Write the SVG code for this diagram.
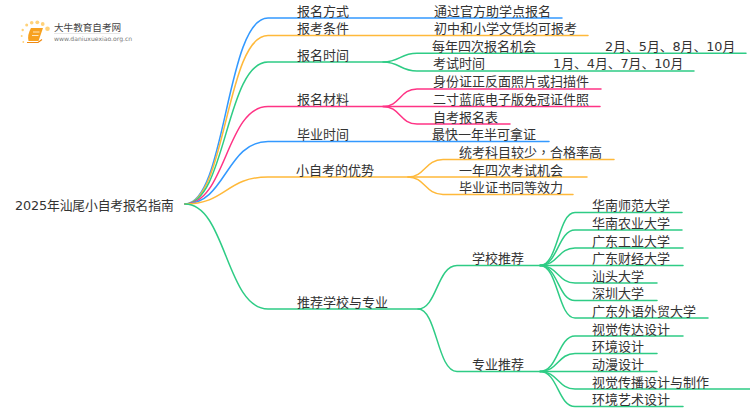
<svg xmlns="http://www.w3.org/2000/svg" width="750" height="410" viewBox="0 0 750 410">
<style>
text{font-family:"DejaVu Sans","Noto Sans CJK SC",sans-serif;font-size:13px;fill:#333}
.tc{font-family:"Noto Sans CJK TC",sans-serif}
#connectors path{fill:none;stroke-width:1.5;stroke-linecap:round}
.b{stroke:#3399ff}.o{stroke:#ffb93a}.g{stroke:#2ecc85}.p{stroke:#ff3385}
</style>
<rect width="750" height="410" fill="#fff"/>
<g id="connectors">
<path class="b" d="M185 204C226 204 226 18 268 18H562"/>
<path class="o" d="M185 204C226 204 226 35.500 268 35.500H588"/>
<path class="g" d="M185 204C226 204 226 62 268 62H383C400 62 400 53.300 417 53.300H746"/>
<path class="g" d="M383 62C400 62 400 71 417 71H694"/>
<path class="p" d="M185 204C226 204 226 106.500 268 106.500H383C400 106.500 400 89 417 89H601"/>
<path class="p" d="M383 106.500H600"/>
<path class="p" d="M383 106.500C400 106.500 400 124 417 124H510"/>
<path class="b" d="M185 204C226 204 226 141.500 268 141.500H549"/>
<path class="o" d="M185 204C226 204 226 177 268 177H408C425 177 425 159.500 443 159.500H614"/>
<path class="o" d="M408 177H587"/>
<path class="o" d="M408 177C425 177 425 194.500 443 194.500H573"/>
<path class="g" d="M185 204C226 204 226 309 268 309H418C437 309 437 265.500 457 265.500H540"/>
<path class="g" d="M418 309C437 309 437 371.500 457 371.500H540"/>
<path class="g" d="M540 265.500C558 265.500 558 212.500 575 212.500H682"/>
<path class="g" d="M540 265.500C558 265.500 558 230 575 230H682"/>
<path class="g" d="M540 265.500C558 265.500 558 248 575 248H683"/>
<path class="g" d="M540 265.500H683"/>
<path class="g" d="M540 265.500C558 265.500 558 283 575 283H657"/>
<path class="g" d="M540 265.500C558 265.500 558 300.500 575 300.500H657"/>
<path class="g" d="M540 265.500C558 265.500 558 318 575 318H708"/>
<path class="g" d="M540 371.500C558 371.500 558 336 575 336H683"/>
<path class="g" d="M540 371.500C558 371.500 558 353.500 575 353.500H657"/>
<path class="g" d="M540 371.500H657"/>
<path class="g" d="M540 371.500C558 371.500 558 389 575 389H750"/>
<path class="g" d="M540 371.500C558 371.500 558 406.500 575 406.500H683"/>
</g>
<g id="logo">
<g fill="#ffd27a">
<circle cx="47.500" cy="28.800" r="2.300"/><circle cx="42.700" cy="24" r="1.900"/><circle cx="37.300" cy="22.300" r="1.900"/><circle cx="31.700" cy="22.700" r="1.800"/><circle cx="26.700" cy="25" r="1.500"/><circle cx="22.700" cy="30" r="1.200"/><circle cx="21.700" cy="36" r="1"/><circle cx="23.300" cy="42" r=".9"/>
</g>
<path d="M31 28H43L38.500 41H28.500Q27 35 31 28Z" fill="#f7a11f"/>
<path d="M27 42.500H38L42 39.500" stroke="#f08a10" stroke-width="1.200" fill="none"/>
<path d="M33 32H39.500M32 35.500H38.500" stroke="#ffe7bd" stroke-width="1" fill="none"/>
<text x="54" y="31" style="font-size:9.600px;fill:#444">大牛教育自考网</text>
<path d="M54 33.500H120" stroke="#ddd" stroke-width=".7"/>
<text x="54" y="41" style="font-size:6.100px;fill:#777">www.daniuxuexiao.org.cn</text>
</g>
<g id="root"><text x="15" y="209.500" style="font-size:12.800px" letter-spacing="-.14">2025年汕尾小自考报名指南</text></g>
<g id="n1"><text x="297" y="15.500">报名方式</text></g>
<g id="n1-1"><text x="434" y="15.500">通过官方助学点报名</text></g>
<g id="n2"><text x="297" y="33">报考条件</text></g>
<g id="n2-1"><text x="434" y="33">初中和小学文凭均可报考</text></g>
<g id="n3"><text x="297" y="59.500">报名时间</text></g>
<g id="n3-1"><text x="432" y="50.500">每年四次报名机会</text></g>
<g id="n3-1-1"><text x="605" y="50.500" style="font-size:12.800px">2月、5月、8月、10月</text></g>
<g id="n3-2"><text x="433" y="68">考试时间</text></g>
<g id="n3-2-1"><text x="553" y="68" style="font-size:12.800px">1月、4月、7月、10月</text></g>
<g id="n4"><text x="297" y="104">报名材料</text></g>
<g id="n4-1"><text x="433" y="86">身份证正反面照片或扫描件</text></g>
<g id="n4-2"><text x="433" y="104">二寸蓝底电子版免冠证件照</text></g>
<g id="n4-3"><text x="433" y="121.500">自考报名表</text></g>
<g id="n5"><text x="297" y="139">毕业时间</text></g>
<g id="n5-1"><text x="432" y="139">最快一年半可拿证</text></g>
<g id="n6"><text x="296" y="174.500">小自考的优势</text></g>
<g id="n6-1"><text x="459" y="157">统考科目较少<tspan class="tc">，</tspan>合格率高</text></g>
<g id="n6-2"><text x="459" y="174.500">一年四次考试机会</text></g>
<g id="n6-3"><text x="459" y="192">毕业证书同等效力</text></g>
<g id="n7"><text x="297" y="307">推荐学校与专业</text></g>
<g id="n7-1"><text x="472" y="263">学校推荐</text></g>
<g id="n7-2"><text x="472" y="369">专业推荐</text></g>
<g id="s1"><text x="592" y="210">华南师范大学</text></g>
<g id="s2"><text x="592" y="227.500">华南农业大学</text></g>
<g id="s3"><text x="592" y="245.500">广东工业大学</text></g>
<g id="s4"><text x="592" y="263">广东财经大学</text></g>
<g id="s5"><text x="592" y="280.500">汕头大学</text></g>
<g id="s6"><text x="592" y="298">深圳大学</text></g>
<g id="s7"><text x="592" y="316">广东外语外贸大学</text></g>
<g id="m1"><text x="592" y="334">视觉传达设计</text></g>
<g id="m2"><text x="592" y="351">环境设计</text></g>
<g id="m3"><text x="592" y="369">动漫设计</text></g>
<g id="m4"><text x="592" y="386.500">视觉传播设计与制作</text></g>
<g id="m5"><text x="592" y="404">环境艺术设计</text></g>
</svg>
